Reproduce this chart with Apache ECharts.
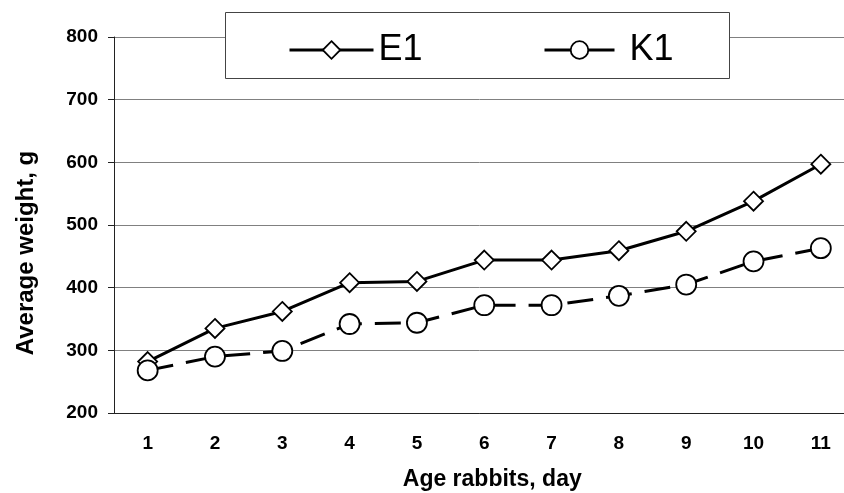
<!DOCTYPE html>
<html>
<head>
<meta charset="utf-8">
<script src="https://cdn.jsdelivr.net/npm/echarts@6/dist/echarts.min.js"></script>
<style>html,body{margin:0;padding:0;background:#fff;}#c{width:844px;height:493px;}</style>
</head>
<body>
<div id="c"></div>
<script>
const categories = ['1','2','3','4','5','6','7','8','9','10','11'];
const e1Values = [282, 335, 362, 408, 410, 444, 444, 459, 490, 538, 597];
const k1Values = [268, 290, 299, 342, 344, 372, 372, 387, 405, 442, 463];
const yTicks = { min: 200, max: 800, interval: 100 };
const xTitle = 'Age rabbits, day';
const yTitle = 'Average weight, g';

const FONT = '"Liberation Sans", Arial, sans-serif';
const chart = echarts.init(document.getElementById('c'), null, { renderer: 'canvas' });
chart.setOption({
  animation: false,
  backgroundColor: '#fff',
  grid: { left: 114, top: 37, bottom: 80, right: -10.5, containLabel: false, outerBoundsMode: 'none' },
  graphic: [{
    type: 'rect', z: 10,
    shape: { x: 225.5, y: 12.5, width: 504, height: 66 },
    style: { fill: '#fff', stroke: '#444', lineWidth: 1 }
  }],
  legend: [
    {
      data: ['E1'], left: 283, top: 25, z: 20,
      itemWidth: 84, itemHeight: 22,
      lineStyle: { width: 3, type: 'solid' },
      itemStyle: { borderWidth: 1.8 },
      textStyle: { fontFamily: FONT, fontSize: 36, color: '#000', lineHeight: 40, padding: [0, 0, 0, 0] }
    },
    {
      data: ['K1'], left: 538, top: 25, z: 20,
      itemWidth: 70, itemHeight: 22,
      lineStyle: { width: 3, type: 'solid' },
      itemStyle: { borderWidth: 1.8 },
      textStyle: { fontFamily: FONT, fontSize: 36, color: '#000', lineHeight: 40, padding: [0, 0, 0, 10] }
    }
  ],
  xAxis: {
    type: 'category',
    data: categories,
    boundaryGap: true,
    name: xTitle,
    nameLocation: 'middle',
    nameGap: 55,
    nameTextStyle: { fontFamily: FONT, fontSize: 23, fontWeight: 'bold', color: '#000', padding: [0, 0, 0, 16] },
    axisLine: { lineStyle: { color: '#222', width: 1 } },
    axisTick: { alignWithLabel: false, length: 6, lineStyle: { color: '#222' } },
    axisLabel: { fontFamily: FONT, fontSize: 19, fontWeight: 'bold', color: '#000', margin: 21, interval: 0 },
    splitLine: { show: false }
  },
  yAxis: {
    type: 'value',
    min: yTicks.min, max: yTicks.max, interval: yTicks.interval,
    name: yTitle,
    nameLocation: 'middle',
    nameGap: 76,
    nameRotate: 90,
    nameTextStyle: { fontFamily: FONT, fontSize: 24, fontWeight: 'bold', color: '#000', padding: [0, 56, 0, 0] },
    axisLine: { show: true, lineStyle: { color: '#222', width: 1 } },
    axisTick: { show: true, length: 6, lineStyle: { color: '#222' } },
    axisLabel: { fontFamily: FONT, fontSize: 19, fontWeight: 'bold', color: '#000', margin: 16 },
    splitLine: { show: true, lineStyle: { color: '#808080', width: 1 } }
  },
  series: [
    {
      name: 'E1', type: 'line', data: e1Values,
      symbol: 'diamond', symbolSize: 19, showAllSymbol: true,
      lineStyle: { color: '#000', width: 3, type: 'solid' },
      itemStyle: { color: '#fff', borderColor: '#000', borderWidth: 1.8 },
      z: 3
    },
    {
      name: 'K1', type: 'line', data: k1Values,
      symbol: 'circle', symbolSize: 20, showAllSymbol: true,
      lineStyle: { color: '#000', width: 3, type: [26, 13] },
      itemStyle: { color: '#fff', borderColor: '#000', borderWidth: 1.8 },
      z: 4
    }
  ]
});
</script>
</body>
</html>
